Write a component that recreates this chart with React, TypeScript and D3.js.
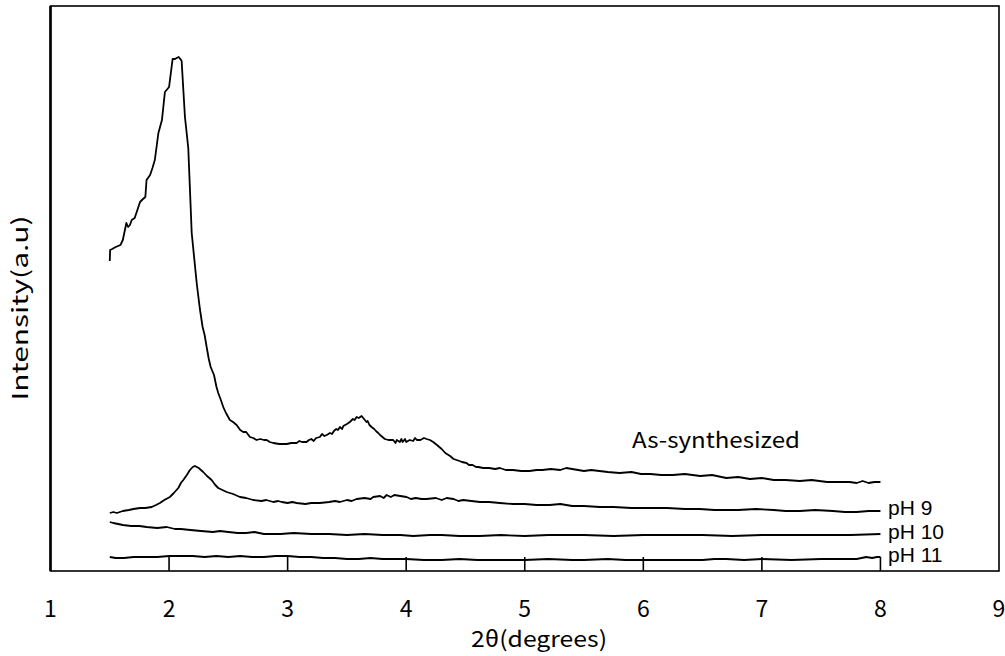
import React from "react";
import * as d3 from "d3";

const X_TICKS = [1, 2, 3, 4, 5, 6, 7, 8, 9];

const AS_SYNTH: [number, number][] = [
  [1.50,310],[1.503,321],[1.52,322],[1.55,324],[1.59,326],[1.61,331],[1.64,348],[1.655,344],[1.67,346],[1.685,351],[1.71,353],[1.73,360],[1.755,369],[1.78,372],[1.80,374],[1.81,391],[1.84,396],[1.86,403],[1.88,411],[1.91,438],[1.94,451],[1.965,479],[2.00,484],[2.03,512],[2.05,512],[2.064,513],[2.081,514],[2.095,512],[2.106,510],[2.134,454],[2.162,423],[2.191,338],[2.233,288],[2.26,262],[2.283,244],[2.30,236],[2.317,224],[2.335,212],[2.351,204],[2.379,196],[2.40,184],[2.415,178],[2.44,170],[2.457,164],[2.48,158],[2.513,151],[2.54,149],[2.57,146],[2.60,141],[2.626,139],[2.65,139],[2.682,134],[2.71,133],[2.738,131],[2.77,132],[2.80,131],[2.823,131],[2.85,129],[2.879,128],[2.93,127],[2.992,127],[3.03,128],[3.076,128],[3.10,130],[3.12,129],[3.16,129],[3.18,131],[3.20,132],[3.22,130],[3.24,133],[3.272,134],[3.29,137],[3.31,135],[3.33,136],[3.357,138],[3.375,137],[3.39,140],[3.41,142],[3.425,141],[3.441,144],[3.46,142],[3.47,145],[3.50,147],[3.525,149],[3.55,152],[3.565,151],[3.582,154],[3.60,153],[3.624,155],[3.645,152],[3.665,149],[3.675,150],[3.69,146],[3.708,144],[3.73,142],[3.745,140],[3.764,138],[3.78,136],[3.79,135],[3.82,132],[3.85,131],[3.87,131],[3.89,131],[3.91,128],[3.92,131],[3.947,129],[3.96,132],[3.97,129],[3.99,132],[4.0,129],[4.03,131],[4.059,130],[4.075,133],[4.09,131],[4.12,131],[4.15,133],[4.172,132],[4.20,131],[4.228,129],[4.26,126],[4.299,122],[4.33,118],[4.37,115],[4.40,112],[4.425,111],[4.45,110],[4.47,109],[4.509,108],[4.53,106],[4.56,106],[4.59,104],[4.607,104],[4.65,103],[4.70,103],[4.75,102],[4.79,103],[4.84,101],[4.90,101],[4.97,100],[5.04,100],[5.10,101],[5.15,101],[5.22,102],[5.30,101],[5.35,103],[5.40,102],[5.45,101],[5.50,100],[5.56,101],[5.63,100],[5.70,99],[5.80,98],[5.90,99],[5.98,97],[6.06,97],[6.15,96],[6.25,96],[6.35,97],[6.48,95],[6.58,96],[6.70,93],[6.80,94],[6.90,92],[7.00,93],[7.10,91],[7.20,91],[7.32,90],[7.42,91],[7.55,89],[7.65,89],[7.74,89],[7.80,88],[7.85,90],[7.90,88],[7.95,89],[8.0,89]
];

const PH9: [number, number][] = [
  [1.50,58],[1.53,59],[1.56,58],[1.61,60],[1.66,61],[1.70,62],[1.755,63],[1.80,63],[1.853,64],[1.89,66],[1.923,68],[1.96,71],[2.007,74],[2.04,78],[2.078,83],[2.10,88],[2.12,91],[2.15,96],[2.176,101],[2.20,104],[2.218,105],[2.25,103],[2.288,99],[2.32,95],[2.359,91],[2.39,86],[2.415,83],[2.45,81],[2.486,79],[2.54,77],[2.598,74],[2.65,73],[2.71,71],[2.78,70],[2.82,71],[2.879,69],[2.92,70],[2.95,69],[3.0,68],[3.04,69],[3.076,68],[3.15,67],[3.2,68],[3.272,68],[3.35,69],[3.40,70],[3.441,69],[3.50,71],[3.54,70],[3.582,72],[3.65,73],[3.70,72],[3.722,74],[3.78,75],[3.81,73],[3.835,76],[3.87,74],[3.90,76],[3.95,75],[4.003,74],[4.04,72],[4.08,73],[4.13,72],[4.172,72],[4.25,73],[4.30,71],[4.341,73],[4.40,72],[4.44,70],[4.481,71],[4.55,70],[4.622,69],[4.70,69],[4.79,68],[4.90,67],[5.0,67],[5.10,66],[5.21,66],[5.30,67],[5.40,65],[5.50,65],[5.633,64],[5.75,64],[5.9,63],[6.05,63],[6.2,63],[6.35,62],[6.476,62],[6.6,61],[6.8,61],[6.95,62],[7.1,61],[7.2,60],[7.32,60],[7.45,61],[7.6,60],[7.7,59],[7.8,59],[7.9,60],[8.0,60]
];

const PH10: [number, number][] = [
  [1.50,49],[1.53,48],[1.57,47],[1.61,46],[1.68,45],[1.75,45],[1.81,44],[1.90,43],[1.98,44],[2.05,42],[2.10,42],[2.18,41],[2.27,40],[2.37,39],[2.43,40],[2.50,39],[2.58,38],[2.65,38],[2.72,39],[2.80,37],[2.94,37],[3.05,38],[3.2,37],[3.35,37],[3.50,36],[3.65,37],[3.8,36],[3.95,36],[4.06,35],[4.2,36],[4.3,36],[4.45,35],[4.62,35],[4.8,36],[5.0,35],[5.2,36],[5.5,36],[5.75,35],[6.0,36],[6.25,36],[6.5,36],[6.75,35],[7.0,36],[7.25,36],[7.5,36],[7.75,36],[8.0,37]
];

const PH11: [number, number][] = [
  [1.50,14],[1.55,13],[1.62,13],[1.70,14],[1.80,14],[1.90,14],[2.0,15],[2.1,15],[2.2,15],[2.3,14],[2.4,15],[2.5,14],[2.6,15],[2.7,14],[2.8,14],[2.9,15],[3.0,15],[3.1,14],[3.2,14],[3.3,13],[3.4,13],[3.5,12],[3.6,12],[3.7,13],[3.8,12],[3.9,12],[4.0,12],[4.15,11],[4.3,11],[4.45,12],[4.6,11],[4.8,11],[5.0,11],[5.2,12],[5.4,11],[5.5,11],[5.7,12],[5.85,11],[6.0,11],[6.2,11],[6.5,11],[6.6,12],[6.7,12],[6.85,11],[7.0,12],[7.25,11],[7.5,12],[7.7,12],[7.8,12],[7.88,14],[7.93,13],[7.97,14],[8.0,14]
];

const SERIES_NAMES = ["As-synthesized", "pH 9", "pH 10", "pH 11"];
const SERIES = [AS_SYNTH, PH9, PH10, PH11];
const X_TITLE = "2θ(degrees)";
const Y_TITLE = "Intensity(a.u)";

const W = 1005;
const H = 656;
const LEFT = 50.5;
const RIGHT = 999;
const TOP = 6;
const BOTTOM = 571;

const GOTHIC = '"Noto Sans CJK JP", "Noto Sans", sans-serif';
const ARIAL = '"Liberation Sans", Arial, sans-serif';

export default function App() {
  const x = d3.scaleLinear().domain([1, 9]).range([LEFT, RIGHT]);
  const y = d3.scaleLinear().domain([0, 565]).range([BOTTOM, TOP]);
  const line = d3
    .line<[number, number]>()
    .x((d) => x(d[0]))
    .y((d) => y(d[1]));

  return (
    <svg
      width={W}
      height={H}
      style={{ position: "absolute", left: 0, top: 0, background: "#fff" }}
    >
      <rect x={0} y={0} width={W} height={H} fill="#fff" />
      {SERIES.map((s, i) => (
        <path key={i} d={line(s) || ""} fill="none" stroke="#000" strokeWidth={1.8} strokeLinejoin="round" />
      ))}
      <rect x={LEFT} y={TOP} width={RIGHT - LEFT} height={BOTTOM - TOP} fill="none" stroke="#000" strokeWidth={1.6} />
      <line x1={LEFT} x2={LEFT} y1={TOP} y2={BOTTOM} stroke="#000" strokeWidth={2.6} />
      {X_TICKS.filter((t) => t > 1 && t < 9).map((t) => (
        <line key={t} x1={x(t)} x2={x(t)} y1={BOTTOM} y2={BOTTOM - 14} stroke="#000" strokeWidth={1.6} />
      ))}
      {X_TICKS.map((t) => (
        <text key={t} x={x(t)} y={617} textAnchor="middle" fontFamily={GOTHIC} fontSize={23} fill="#000">
          {t}
        </text>
      ))}
      <text x={471} y={647} fontFamily={GOTHIC} fontSize={22} fill="#000" textLength={136} lengthAdjust="spacingAndGlyphs">
        {X_TITLE}
      </text>
      <text
        transform="translate(28,308) rotate(-90)"
        textAnchor="middle"
        fontFamily={GOTHIC}
        fontSize={22}
        fill="#000"
        textLength={185}
        lengthAdjust="spacingAndGlyphs"
      >
        {Y_TITLE}
      </text>
      <text x={632} y={448} fontFamily={GOTHIC} fontSize={22} fill="#000" textLength={168} lengthAdjust="spacingAndGlyphs">
        {SERIES_NAMES[0]}
      </text>
      <text x={888} y={515} fontFamily={ARIAL} fontSize={21} fill="#000">{SERIES_NAMES[1]}</text>
      <text x={888} y={539} fontFamily={ARIAL} fontSize={21} fill="#000">{SERIES_NAMES[2]}</text>
      <text x={888} y={562} fontFamily={ARIAL} fontSize={21} fill="#000">{SERIES_NAMES[3]}</text>
    </svg>
  );
}
